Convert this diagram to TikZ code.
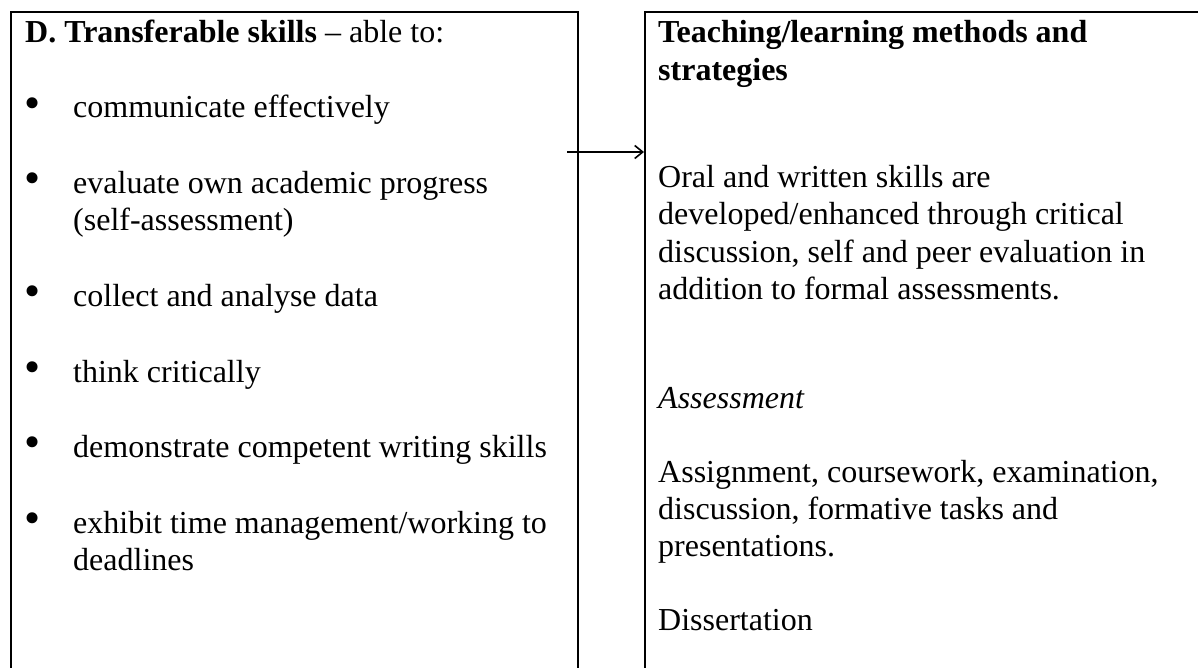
\documentclass[tikz,border=0pt]{standalone}
\usepackage{fontspec}
\setmainfont{Liberation Serif}
\usetikzlibrary{arrows.meta}
\newcommand{\bodyfont}{\fontsize{32}{37}\selectfont}
\tikzset{
  boxline/.style={line width=2.2pt, black},
  txt/.style={anchor=base west, inner sep=0pt, font=\bodyfont},
  bul/.style={anchor=center, inner sep=0pt, font=\fontsize{46}{46}\selectfont},
  link/.style={line width=1.6pt, -{Straight Barb[length=8pt,width=13pt,line width=1.6pt]}}
}
\begin{document}
\begin{tikzpicture}[x=1pt,y=-1pt]
\useasboundingbox (0,0) rectangle (1198,668);
\clip (0,0) rectangle (1198,668);
% boxes
\draw[boxline] (11,680) -- (11,12) -- (578,12) -- (578,680);
\draw[boxline] (645,680) -- (645,12) -- (1210,12);
% left column
\node[txt] (ltitle) at (25,43) {\textbf{D. Transferable skills} – able to:};
\node[bul] (b1) at (33,108) {•};
\node[txt] (l1) at (73,118) {communicate effectively};
\node[bul] (b2) at (33,183.5) {•};
\node[txt] (l2) at (73,193.5) {evaluate own academic progress};
\node[txt] (l2b) at (73,231) {(self-assessment)};
\node[bul] (b3) at (33,296.5) {•};
\node[txt] (l3) at (73,306.5) {collect and analyse data};
\node[bul] (b4) at (33,372) {•};
\node[txt] (l4) at (73,382) {think critically};
\node[bul] (b5) at (33,447.5) {•};
\node[txt] (l5) at (73,457.5) {demonstrate competent writing skills};
\node[bul] (b6) at (33,523) {•};
\node[txt] (l6) at (73,533) {exhibit time management/working to};
\node[txt] (l6b) at (73,570.5) {deadlines};
% right column
\node[txt] (rt1) at (658,43) {\textbf{Teaching/learning methods and}};
\node[txt] (rt2) at (658,80.5) {\textbf{strategies}};
\node[txt] (r1) at (658,188) {Oral and written skills are};
\node[txt] (r2) at (658,225) {developed/enhanced through critical};
\node[txt] (r3) at (658,262) {discussion, self and peer evaluation in};
\node[txt] (r4) at (658,299) {addition to formal assessments.};
\node[txt] (ra) at (658,408) {\textit{Assessment}};
\node[txt] (r5) at (658,482) {Assignment, coursework, examination,};
\node[txt] (r6) at (658,519) {discussion, formative tasks and};
\node[txt] (r7) at (658,556) {presentations.};
\node[txt] (r8) at (658,630) {Dissertation};
% connector
\coordinate (astart) at (567,152);
\coordinate (aend) at (644,152);
\draw[link] (astart) -- (aend);
\end{tikzpicture}
\end{document}
